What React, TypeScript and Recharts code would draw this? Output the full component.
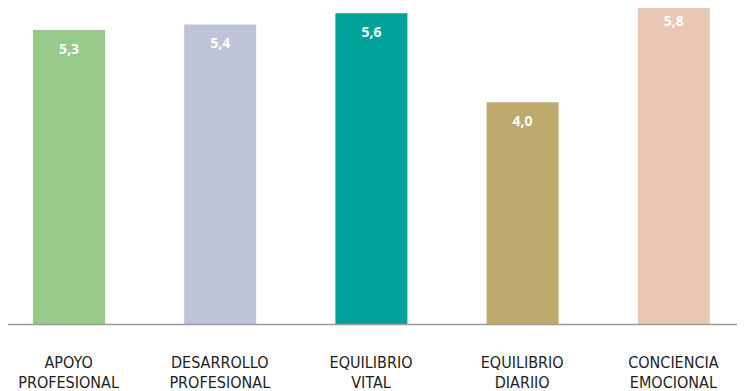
import { BarChart, Bar, XAxis, YAxis, Cell, LabelList } from 'recharts'

const categories = ['APOYO PROFESIONAL', 'DESARROLLO PROFESIONAL', 'EQUILIBRIO VITAL', 'EQUILIBRIO DIARIIO', 'CONCIENCIA EMOCIONAL']
const scores = [5.3, 5.4, 5.6, 4.0, 5.8]
const colors = ['#97c98a', '#bec3d9', '#00a29a', '#bfaa6e', '#e8c8b2']

const data = categories.map((name, i) => ({ name, score: scores[i] }))

function TwoLineTick({ x, y, payload }: any) {
  const words = String(payload.value).split(' ')
  const first = words[0]
  const rest = words.slice(1).join(' ')
  return (
    <text x={x} y={y} textAnchor="middle" fill="#1e1e1e" fontSize={16}
      fontFamily="'Liberation Sans Narrow', 'DejaVu Sans Condensed', sans-serif">
      <tspan x={x} dy={43}>{first}</tspan>
      <tspan x={x} dy={20.7}>{rest}</tspan>
    </text>
  )
}

export default function App() {
  return (
    <div style={{ marginTop: -8 }}>
      <BarChart width={737} height={391} data={data} margin={{ top: 0, right: 0, bottom: 0, left: 0 }}>
        <XAxis dataKey="name" height={66.5} interval={0} tickLine={false} tickSize={0} tickMargin={0}
          axisLine={{ stroke: '#9a9a9a', strokeWidth: 1.5 }} padding={{ left: -15, right: -4 }}
          tick={<TwoLineTick />} />
        <YAxis hide domain={[0, 5.84]} />
        <Bar dataKey="score" barSize={72} isAnimationActive={false}>
          {data.map((d, i) => <Cell key={d.name} fill={colors[i]} />)}
          <LabelList dataKey="score" position="insideTop" offset={14} fill="#ffffff" fontSize={14}
            fontWeight="bold" fontFamily="'Open Sans', sans-serif"
            formatter={(v: any) => Number(v).toFixed(1).replace('.', ',')} />
        </Bar>
      </BarChart>
    </div>
  )
}
